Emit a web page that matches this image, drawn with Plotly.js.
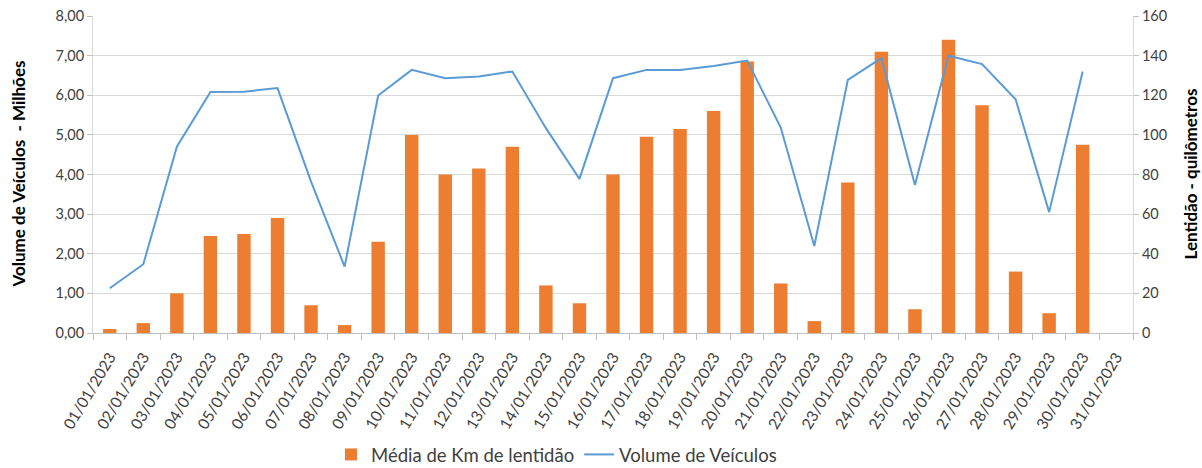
<!DOCTYPE html>
<html><head><meta charset="utf-8">
<script src="https://cdn.plot.ly/plotly-3.0.1.min.js"></script>
<style>body{margin:0;background:#fff}#c{width:1202px;height:468px}</style>
</head><body><div id="c"></div>
<script>
const dates = ["01/01/2023","02/01/2023","03/01/2023","04/01/2023","05/01/2023","06/01/2023","07/01/2023","08/01/2023","09/01/2023","10/01/2023","11/01/2023","12/01/2023","13/01/2023","14/01/2023","15/01/2023","16/01/2023","17/01/2023","18/01/2023","19/01/2023","20/01/2023","21/01/2023","22/01/2023","23/01/2023","24/01/2023","25/01/2023","26/01/2023","27/01/2023","28/01/2023","29/01/2023","30/01/2023","31/01/2023"];
const mediaKmLentidao = [0.1,0.25,1.0,2.45,2.5,2.9,0.7,0.2,2.3,5.0,4.0,4.15,4.7,1.2,0.75,4.0,4.95,5.15,5.6,6.85,1.25,0.3,3.8,7.1,0.6,7.4,5.75,1.55,0.5,4.75,null];
const volumeVeiculos = [22.6,34.7,94,121.7,121.8,123.6,76.4,33.5,119.9,132.8,128.6,129.5,132,103.4,77.8,128.6,132.8,132.8,134.8,137.5,103.7,43.9,127.8,138.7,74.7,139.9,135.7,118,61,132,null];
const leftTitle = "Volume de Veículos  - Milhões";
const rightTitle = "Lentidão - quilômetros";

const FONT = "Lato, 'Open Sans', sans-serif";
const grid = "#D9D9D9";
const traces = [
  {type:"bar", x:dates, y:mediaKmLentidao, name:"Média de Km de lentidão",
   marker:{color:"#ED7D31"}, width:0.4, yaxis:"y"},
  {type:"scatter", mode:"lines", x:dates, y:volumeVeiculos, name:"Volume de Veículos",
   line:{color:"#5B9BD5", width:2}, yaxis:"y2", connectgaps:false}
];
const titleFont = {family:FONT, size:17, color:"#000", weight:"bold"};
const layout = {
  width:1202, height:468,
  margin:{l:93, r:69, t:16, b:135},
  paper_bgcolor:"#fff", plot_bgcolor:"#fff",
  font:{family:FONT, size:14, color:"#595959"},
  separators:",.",
  showlegend:true,
  legend:{orientation:"h", xref:"container", yref:"container", x:0.463, xanchor:"center", y:0.028, yanchor:"middle",
          font:{family:FONT, size:18.5, color:"#404040"}, traceorder:"normal", itemwidth:30},
  xaxis:{type:"category", tickangle:-59, tickfont:{size:15.5, color:"#404040"}, automargin:false,
         showgrid:false, showline:true, linecolor:"#BFBFBF", linewidth:1,
         ticks:"outside", ticklen:6, tickcolor:"#BFBFBF", tickson:"boundaries",
         ticklabelstandoff:8, range:[-0.5,30.5]},
  yaxis:{range:[0,8], dtick:1, tickformat:".2f", gridcolor:grid, gridwidth:1, automargin:false,
         zeroline:false, showline:true, linecolor:"#D9D9D9",
         ticks:"outside", ticklen:5, tickcolor:"#BFBFBF",
         tickfont:{size:14.5, color:"#404040"}},
  yaxis2:{range:[0,160], dtick:20, overlaying:"y", side:"right", showgrid:false, automargin:false,
          zeroline:false, showline:true, linecolor:"#D9D9D9",
          ticks:"outside", ticklen:5, tickcolor:"#BFBFBF",
          tickfont:{size:14.5, color:"#404040"}},
  annotations:[
    {text:leftTitle, xref:"paper", yref:"paper", x:(18-93)/1040, y:0.5, xanchor:"center", yanchor:"middle",
     textangle:-90, showarrow:false, font:titleFont},
    {text:rightTitle, xref:"paper", yref:"paper", x:(1190-93)/1040, y:0.5, xanchor:"center", yanchor:"middle",
     textangle:-90, showarrow:false, font:titleFont}
  ]
};
Plotly.newPlot("c", traces, layout, {displayModeBar:false, staticPlot:true});
</script></body></html>
